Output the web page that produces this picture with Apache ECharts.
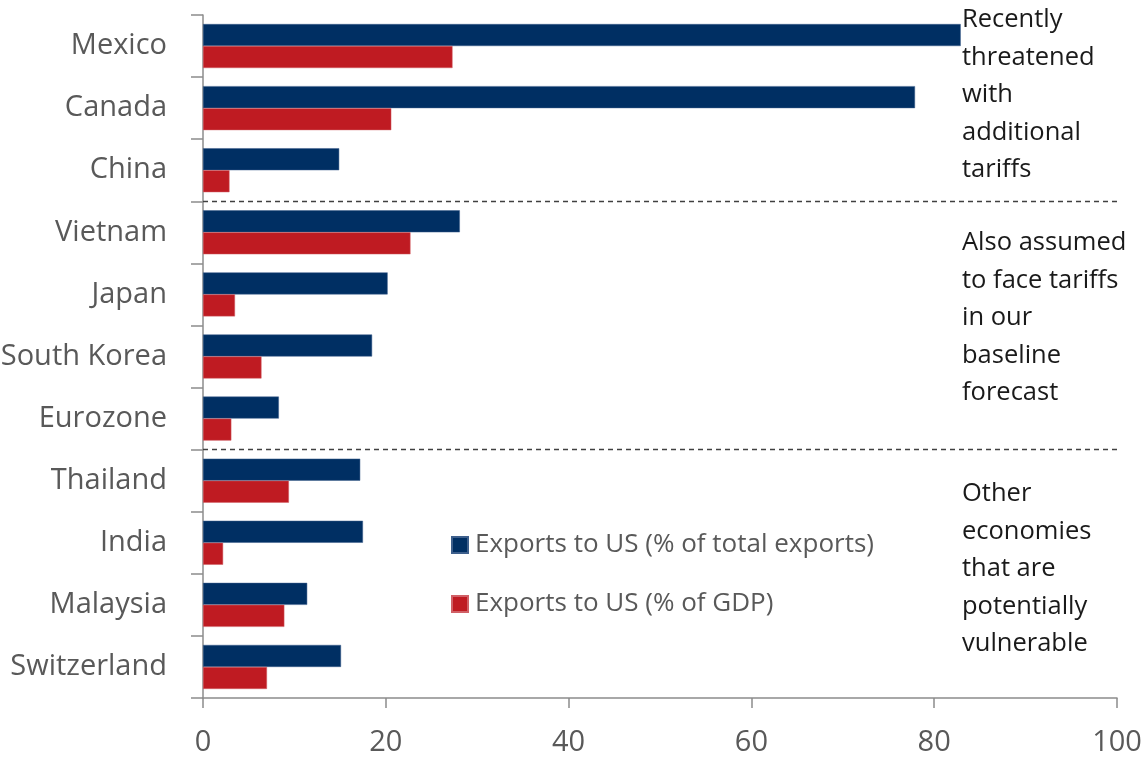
<!DOCTYPE html>
<html>
<head>
<meta charset="utf-8">
<script src="https://cdn.jsdelivr.net/npm/echarts@6/dist/echarts.min.js"></script>
<style>
  html, body { margin: 0; padding: 0; background: #fff; }
  #chart { width: 1145px; height: 760px; }
</style>
</head>
<body>
<div id="chart"></div>
<script>
// categories, top to bottom
var countries = ['Mexico', 'Canada', 'China', 'Vietnam', 'Japan', 'South Korea', 'Eurozone',
  'Thailand', 'India', 'Malaysia', 'Switzerland']
// exports to US, % of total exports
var shareOfExports = [82.9, 77.9, 14.9, 28.1, 20.2, 18.5, 8.3, 17.2, 17.5, 11.4, 15.1]
// exports to US, % of GDP
var shareOfGdp = [27.3, 20.6, 2.9, 22.7, 3.5, 6.4, 3.1, 9.4, 2.2, 8.9, 7.0]
// group separators (category boundaries)
var groupBreaks = [3, 7]
var xTicks = [0, 20, 40, 60, 80, 100]

var seriesNames = ['Exports to US (% of total exports)', 'Exports to US (% of GDP)']
var notes = [
  'Recently\nthreatened\nwith\nadditional\ntariffs',
  'Also assumed\nto face tariffs\nin our\nbaseline\nforecast',
  'Other\neconomies\nthat are\npotentially\nvulnerable'
]

var font = '"Open Sans", sans-serif'
var axisGrey = '#8c8c8c'
var labelGrey = '#595959'
var noteFont = '25.5px ' + font

var chart = echarts.init(document.getElementById('chart'))

chart.setOption({
  animation: false,
  textStyle: { fontFamily: font },
  grid: {
    left: 203,
    right: 28,
    top: 15,
    bottom: 62,
    containLabel: false,
    outerBoundsMode: 'none'
  },
  legend: {
    orient: 'vertical',
    left: 446,
    top: 527,
    itemWidth: 16,
    itemHeight: 16,
    itemGap: 33,
    icon: 'rect',
    data: seriesNames,
    textStyle: {
      fontFamily: font,
      fontSize: 26,
      color: labelGrey,
      padding: [0, 0, 0, 2]
    }
  },
  xAxis: [
    {
      type: 'value',
      min: xTicks[0],
      max: xTicks[xTicks.length - 1],
      interval: 20,
      axisLine: { show: true, onZero: false, lineStyle: { color: axisGrey, width: 1.5 } },
      axisTick: { show: true, length: 10, lineStyle: { color: axisGrey, width: 1.5 } },
      splitLine: { show: false },
      axisLabel: {
        margin: 30,
        fontSize: 29,
        color: labelGrey,
        fontFamily: font
      }
    }
  ],
  yAxis: [
    {
      type: 'category',
      data: countries,
      inverse: true,
      axisLine: { show: true, onZero: false, lineStyle: { color: axisGrey, width: 1.5 } },
      axisTick: { show: true, length: 12, alignWithLabel: false, lineStyle: { color: axisGrey, width: 1.5 } },
      axisLabel: {
        margin: 36,
        fontSize: 29,
        color: labelGrey,
        fontFamily: font
      }
    },
    {
      // hidden helper axis so the group separators sit on category boundaries
      type: 'value',
      min: 0,
      max: countries.length,
      inverse: true,
      show: false
    }
  ],
  series: [
    {
      name: seriesNames[0],
      type: 'bar',
      data: shareOfExports,
      barWidth: 22,
      barGap: '0%',
      itemStyle: { color: '#002f63', borderColor: '#3d5f8c', borderWidth: 0.5 }
    },
    {
      name: seriesNames[1],
      type: 'bar',
      data: shareOfGdp,
      barWidth: 22,
      barGap: '0%',
      itemStyle: { color: '#bf1b22', borderColor: '#d06066', borderWidth: 0.5 }
    },
    {
      type: 'line',
      yAxisIndex: 1,
      data: [],
      silent: true,
      markLine: {
        symbol: 'none',
        silent: true,
        label: { show: false },
        lineStyle: { color: '#404040', type: [5, 4], width: 1.3 },
        data: groupBreaks.map(function (b) { return { yAxis: b } })
      }
    }
  ],
  graphic: [
    { type: 'text', left: 962, top: 1, style: { text: notes[0], font: noteFont, fill: '#1a1a1a', lineHeight: 37.5 } },
    { type: 'text', left: 962, top: 224, style: { text: notes[1], font: noteFont, fill: '#1a1a1a', lineHeight: 37.5 } },
    { type: 'text', left: 962, top: 475, style: { text: notes[2], font: noteFont, fill: '#1a1a1a', lineHeight: 37.5 } }
  ]
})
</script>
</body>
</html>
